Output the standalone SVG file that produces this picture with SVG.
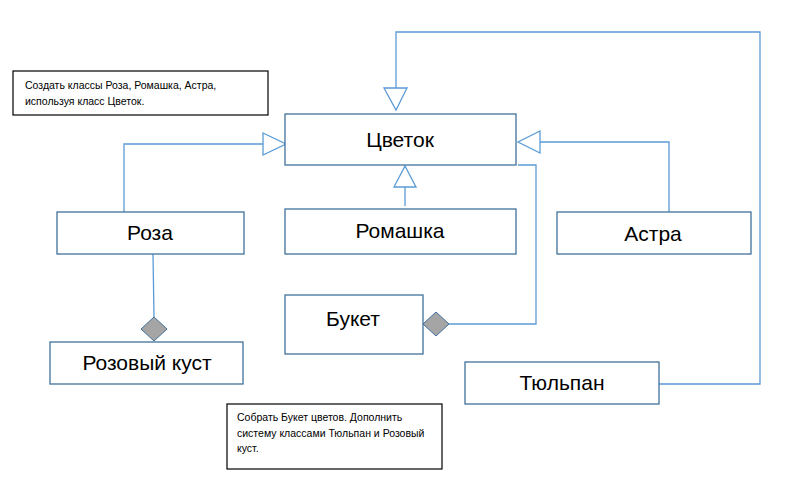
<svg xmlns="http://www.w3.org/2000/svg" width="801" height="486" viewBox="0 0 801 486">
<defs>
<style>
.node rect{fill:#fff;stroke:#41719C;stroke-width:1.3}
.node text{font-family:"Liberation Sans",Arial,sans-serif;font-size:21px;fill:#000;text-anchor:middle}
.note rect{fill:#fff;stroke:#000;stroke-width:1.2}
.note text{font-family:"Liberation Sans",Arial,sans-serif;font-size:10.5px;fill:#000}
.conn{fill:none;stroke:#5B9BD5;stroke-width:1.3}
.tri{fill:#fff;stroke:#5B9BD5;stroke-width:1.3}
.dia{fill:#A5A5A5;stroke:#41719C;stroke-width:1}
</style>
</defs>
<rect width="801" height="486" fill="#fff"/>
<g id="note1" class="note">
<rect x="13" y="71" width="255" height="44"/>
<text x="25" y="89">Создать классы Роза, Ромашка, Астра,</text>
<text x="25" y="105">используя класс Цветок.</text>
</g>
<g id="note2" class="note">
<rect x="227" y="404" width="215" height="65"/>
<text x="237" y="421">Собрать Букет цветов. Дополнить</text>
<text x="237" y="437">систему классами Тюльпан и Розовый</text>
<text x="237" y="452">куст.</text>
</g>
<g id="connectors">
<path class="conn" d="M124,212 V144 H263"/>
<polygon class="tri" points="263,133 286,144 263,155"/>
<path class="conn" d="M405,206 V187"/>
<polygon class="tri" points="394,187 416,187 405,166"/>
<path class="conn" d="M669,212 V142 H540"/>
<polygon class="tri" points="540,131 518,142 540,153"/>
<path class="conn" d="M659,384 H760 V32 H396 V88"/>
<polygon class="tri" points="384,88 407,88 396,110"/>
<path class="conn" d="M518,165 H536 V324 H449"/>
<polygon class="dia" points="423,324 436,312 449,324 436,336"/>
<path class="conn" d="M153,254 L154,317"/>
<polygon class="dia" points="141,329 154,317 167,329 154,341"/>
</g>
<g id="flower" class="node">
<rect x="285" y="114" width="231" height="51"/>
<text x="400" y="147">Цветок</text>
</g>
<g id="rose" class="node">
<rect x="57" y="212" width="187" height="42"/>
<text x="150" y="240">Роза</text>
</g>
<g id="chamomile" class="node">
<rect x="285" y="209" width="231" height="45"/>
<text x="400" y="238">Ромашка</text>
</g>
<g id="aster" class="node">
<rect x="557" y="212" width="194" height="42"/>
<text x="653" y="241">Астра</text>
</g>
<g id="bouquet" class="node">
<rect x="285" y="295" width="138" height="59"/>
<text x="353" y="326">Букет</text>
</g>
<g id="rosebush" class="node">
<rect x="50" y="342" width="193" height="42"/>
<text x="147" y="370">Розовый куст</text>
</g>
<g id="tulip" class="node">
<rect x="465" y="362" width="194" height="42"/>
<text x="562" y="390">Тюльпан</text>
</g>
</svg>
